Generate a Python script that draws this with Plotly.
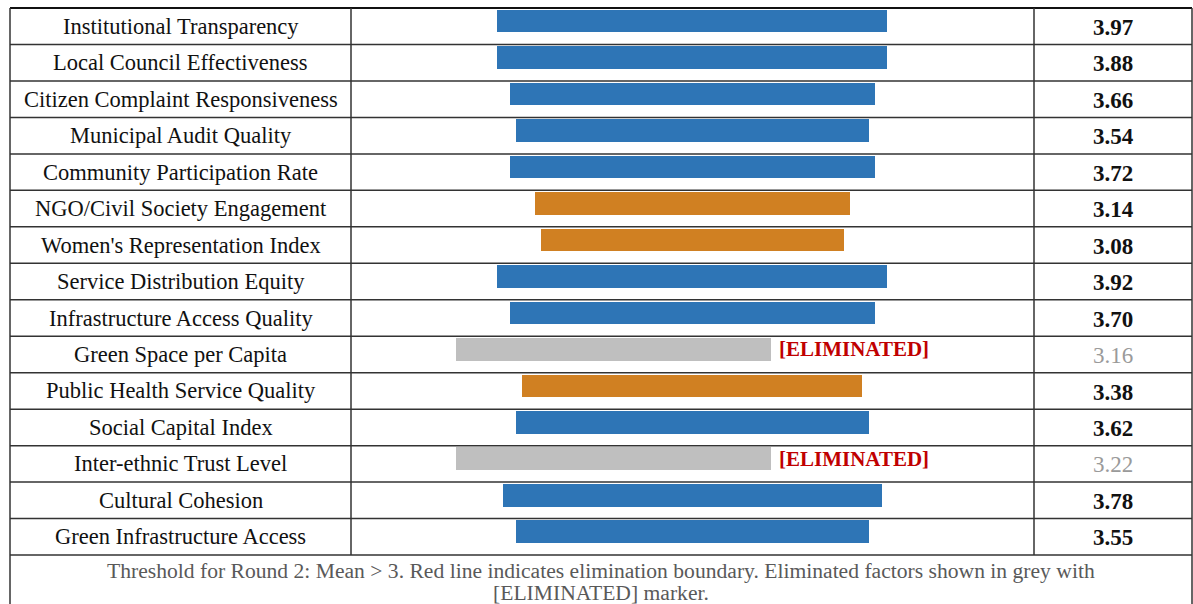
import plotly.graph_objects as go

# ---------------- data ----------------
factors = [
    "Institutional Transparency",
    "Local Council Effectiveness",
    "Citizen Complaint Responsiveness",
    "Municipal Audit Quality",
    "Community Participation Rate",
    "NGO/Civil Society Engagement",
    "Women's Representation Index",
    "Service Distribution Equity",
    "Infrastructure Access Quality",
    "Green Space per Capita",
    "Public Health Service Quality",
    "Social Capital Index",
    "Inter-ethnic Trust Level",
    "Cultural Cohesion",
    "Green Infrastructure Access",
]
means = [3.97, 3.88, 3.66, 3.54, 3.72, 3.14, 3.08, 3.92, 3.70, 3.16, 3.38, 3.62, 3.22, 3.78, 3.55]
status = ["high", "high", "high", "high", "high", "mid", "mid", "high", "high",
          "eliminated", "mid", "high", "eliminated", "high", "high"]
# bar extents (chart units)
bar_start = [497, 497, 510, 516, 510, 535, 541, 497, 510, 456, 522, 516, 456, 503, 516]
bar_end = [887, 887, 875, 869, 875, 850, 844, 887, 875, 771, 862, 869, 771, 882, 869]

footnote_lines = [
    "Threshold for Round 2: Mean > 3. Red line indicates elimination boundary. Eliminated factors shown in grey with",
    "[ELIMINATED] marker.",
]
marker_text = "[ELIMINATED]"

# ---------------- styling ----------------
W, H = 1193, 604
TOP = 8.0
ROW = 36.47
X_LEFT, X_C1, X_C2, X_RIGHT = 10, 351, 1034, 1192
SERIF = "Liberation Serif, Times New Roman, serif"
color_map = {"high": "#2E75B6", "mid": "#D08022", "eliminated": "#BFBFBF"}

n = len(factors)
rows = list(range(n))


def px_to_row(py):
    return (py - TOP) / ROW - 0.5


fig = go.Figure()
fig.add_trace(go.Bar(
    orientation="h",
    y=rows,
    base=bar_start,
    x=[e - s for s, e in zip(bar_start, bar_end)],
    marker=dict(color=[color_map[s] for s in status], line=dict(width=0)),
    width=0.62,
    offset=-0.45,
    hoverinfo="skip",
))

line_col = "#333333"
shapes = []
for i in range(n + 1):
    shapes.append(dict(type="line", xref="x", yref="y", x0=X_LEFT, x1=X_RIGHT,
                       y0=i - 0.5, y1=i - 0.5,
                       line=dict(color="#111111" if i == 0 else line_col, width=2 if i == 0 else 1.5)))
ybot = px_to_row(H + 5)
for xv in (X_LEFT, X_RIGHT):
    shapes.append(dict(type="line", xref="x", yref="y", x0=xv, x1=xv, y0=-0.5, y1=ybot,
                       line=dict(color=line_col, width=1.5)))
for xv in (X_C1, X_C2):
    shapes.append(dict(type="line", xref="x", yref="y", x0=xv, x1=xv, y0=-0.5, y1=n - 0.5,
                       line=dict(color=line_col, width=1.5)))

annotations = []
for i, (f, m, s) in enumerate(zip(factors, means, status)):
    annotations.append(dict(x=(X_LEFT + X_C1) / 2, y=i, xref="x", yref="y", text=f,
                            showarrow=False, xanchor="center", yanchor="middle",
                            font=dict(family=SERIF, size=22.5, color="#111111")))
    if s == "eliminated":
        val_txt = f"{m:.2f}"
        vcol = "#9A9A9A"
    else:
        val_txt = f"<b>{m:.2f}</b>"
        vcol = "#111111"
    annotations.append(dict(x=(X_C2 + X_RIGHT) / 2, y=i + 0.03, xref="x", yref="y", text=val_txt,
                            showarrow=False, xanchor="center", yanchor="middle",
                            font=dict(family=SERIF, size=23, color=vcol)))
    if s == "eliminated":
        annotations.append(dict(x=bar_end[i], y=i - 0.14, xref="x", yref="y", xshift=6,
                                text=f"<b>{marker_text}</b>", showarrow=False,
                                xanchor="left", yanchor="middle",
                                font=dict(family=SERIF, size=21, color="#C00000")))

for k, (txt, py) in enumerate(zip(footnote_lines, (570.5, 592.5))):
    annotations.append(dict(x=(X_LEFT + X_RIGHT) / 2, y=px_to_row(py), xref="x", yref="y",
                            text=txt, showarrow=False, xanchor="center", yanchor="middle",
                            font=dict(family=SERIF, size=21.6, color="#595959")))

fig.update_layout(
    width=W, height=H,
    margin=dict(l=0, r=0, t=0, b=0),
    paper_bgcolor="white", plot_bgcolor="white",
    showlegend=False,
    shapes=shapes,
    annotations=annotations,
    xaxis=dict(range=[0, W], visible=False, fixedrange=True),
    yaxis=dict(range=[px_to_row(H), px_to_row(0)], visible=False, fixedrange=True),
    bargap=0,
)

fig.write_html("out.html", config={"displayModeBar": False})
